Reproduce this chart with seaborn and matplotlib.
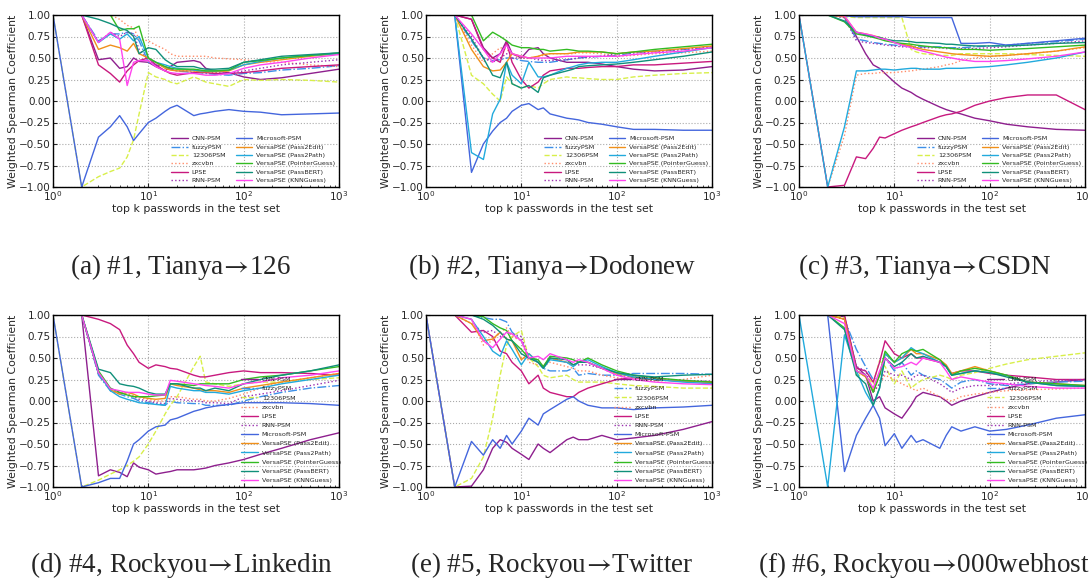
import matplotlib
matplotlib.use("Agg")
import matplotlib.pyplot as plt
import seaborn as sns
import numpy as np

# ============================================================================
# DATA (x = top k passwords)
# ============================================================================
K = [1, 2, 3, 4, 5, 6, 7, 8, 10, 12, 15, 17, 20, 30, 35, 40, 50, 70, 100, 150, 250, 500, 1000]

METHODS = ['CNN-PSM', 'fuzzyPSM', '12306PSM', 'zxcvbn', 'LPSE', 'RNN-PSM', 'Microsoft-PSM',
           'VersaPSE (Pass2Edit)', 'VersaPSE (Pass2Path)', 'VersaPSE (PointerGuess)',
           'VersaPSE (PassBERT)', 'VersaPSE (KNNGuess)']

ARROW = r'$\!{\rightarrow}\!$'
CAPTIONS = ['(a) #1, Tianya' + ARROW + '126', '(b) #2, Tianya' + ARROW + 'Dodonew',
            '(c) #3, Tianya' + ARROW + 'CSDN', '(d) #4, Rockyou' + ARROW + 'Linkedin',
            '(e) #5, Rockyou' + ARROW + 'Twitter', '(f) #6, Rockyou' + ARROW + '000webhost']

# (a) Tianya -> 126
A_CNN = [1, 1, .48, .5, .38, .4, .5, .46, .45, .4, .35, .4, .45, .47, .45, .38, .35, .33, .28, .25, .27, .32, .37]
A_FUZZY = [1, 1, .7, .78, .78, .8, .78, .7, .45, .42, .4, .37, .35, .33, .33, .32, .31, .3, .32, .33, .36, .38, .41]
A_12306 = [1, -1, -.88, -.82, -.78, -.65, -.45, -.15, .33, .28, .25, .22, .2, .28, .25, .22, .2, .17, .25, .24, .25, .24, .22]
A_ZXCVBN = [1, 1, 1, 1, .95, .88, .85, .72, .7, .65, .6, .55, .52, .52, .52, .52, .5, .49, .48, .46, .45, .42, .4]
A_LPSE = [1, 1, .42, .32, .22, .35, .42, .47, .5, .42, .35, .32, .3, .33, .33, .33, .32, .32, .33, .35, .38, .4, .42]
A_RNN = [1, 1, .68, .8, .75, .8, .78, .6, .47, .42, .4, .37, .35, .35, .34, .34, .33, .32, .35, .38, .42, .45, .48]
A_MS = [1, -1, -.42, -.3, -.17, -.3, -.46, -.38, -.25, -.2, -.12, -.08, -.05, -.17, -.15, -.14, -.12, -.1, -.12, -.13, -.16, -.15, -.14]
A_EDIT = [1, 1, .6, .65, .62, .58, .67, .55, .5, .45, .38, .36, .35, .35, .34, .34, .34, .35, .42, .45, .48, .52, .55]
A_PATH = [1, 1, .68, .78, .72, .78, .7, .75, .5, .45, .42, .4, .38, .36, .35, .35, .35, .36, .42, .46, .5, .53, .55]
A_POINTER = [1, 1, 1, 1, .82, .84, .84, .87, .5, .45, .4, .38, .37, .37, .36, .35, .35, .36, .45, .47, .5, .53, .56]
A_BERT = [1, 1, .95, .9, .85, .82, .75, .55, .62, .6, .48, .44, .4, .4, .38, .37, .37, .38, .45, .48, .52, .54, .56]
A_KNN = [1, 1, .68, .8, .72, .18, .45, .47, .47, .4, .35, .33, .32, .32, .31, .3, .3, .32, .38, .42, .45, .5, .54]

# (b) Tianya -> Dodonew
B_CNN = [1, 1, .95, .62, .5, .55, .7, .55, .5, .6, .62, .55, .5, .45, .45, .45, .45, .43, .4, .37, .35, .36, .4]
B_FUZZY = [1, 1, .7, .5, .47, .48, .5, .5, .47, .46, .45, .45, .45, .48, .49, .5, .51, .52, .53, .56, .58, .6, .62]
B_12306 = [1, 1, .3, .2, .08, 0, .28, .2, .15, .18, .15, .2, .25, .28, .27, .27, .26, .25, .25, .28, .3, .32, .33]
B_ZXCVBN = [1, 1, .65, .45, .55, .62, .6, .55, .5, .5, .52, .53, .55, .55, .55, .56, .56, .55, .52, .53, .55, .56, .58]
B_LPSE = [1, 1, .95, .6, .5, .45, .68, .45, .25, .15, .22, .3, .35, .38, .38, .38, .39, .4, .4, .42, .42, .44, .46]
B_RNN = [1, 1, .75, .5, .45, .5, .55, .5, .5, .5, .48, .47, .47, .48, .49, .5, .51, .52, .55, .56, .57, .6, .63]
B_MS = [1, 1, -.83, -.5, -.35, -.25, -.2, -.12, -.05, -.03, -.1, -.08, -.15, -.2, -.21, -.22, -.25, -.27, -.3, -.33, -.33, -.34, -.34]
B_EDIT = [1, 1, .6, .4, .35, .36, .45, .55, .52, .5, .52, .54, .55, .55, .56, .57, .57, .57, .55, .57, .58, .61, .64]
B_PATH = [1, 1, -.6, -.68, -.15, .02, .45, .3, .2, .45, .28, .28, .3, .38, .4, .42, .44, .45, .45, .48, .52, .57, .62]
B_POINTER = [1, 1, 1, .7, .8, .75, .7, .65, .62, .62, .6, .6, .58, .6, .59, .58, .58, .57, .55, .57, .6, .63, .66]
B_BERT = [1, 1, .72, .5, .3, .27, .45, .2, .15, .18, .1, .27, .3, .35, .37, .4, .41, .42, .43, .45, .48, .52, .57]
B_KNN = [1, 1, .78, .6, .45, .55, .65, .55, .52, .5, .5, .5, .5, .52, .52, .52, .52, .52, .52, .54, .56, .58, .62]

# (c) Tianya -> CSDN
C_CNN = [1, 1, .98, .75, .55, .42, .38, .32, .22, .15, .1, .06, .02, -.07, -.1, -.12, -.15, -.2, -.23, -.27, -.3, -.33, -.34]
C_FUZZY = [1, 1, .97, .72, .7, .68, .67, .66, .65, .64, .64, .63, .63, .63, .62, .62, .62, .63, .64, .65, .67, .69, .72]
C_12306 = [1, 1, .98, .97, .97, .97, .97, .97, .97, .97, .6, .57, .55, .53, .53, .53, .55, .55, .55, .55, .54, .53, .52]
C_ZXCVBN = [1, -1, -.4, .3, .32, .32, .33, .33, .33, .34, .35, .36, .37, .4, .42, .43, .47, .5, .52, .53, .55, .58, .62]
C_LPSE = [1, -1, -.98, -.65, -.67, -.55, -.42, -.43, -.38, -.34, -.3, -.28, -.25, -.18, -.16, -.15, -.12, -.05, 0, .04, .07, .07, -.1]
C_RNN = [1, 1, .97, .7, .68, .67, .66, .65, .64, .63, .63, .62, .62, .62, .61, .61, .61, .61, .62, .63, .65, .67, .7]
C_MS = [1, 1, .99, .98, .98, .98, .98, .98, .98, .98, .97, .97, .97, .97, .97, .97, .67, .67, .68, .65, .67, .7, .73]
C_EDIT = [1, 1, .98, .8, .78, .76, .74, .72, .68, .66, .64, .62, .6, .57, .56, .55, .54, .53, .52, .53, .55, .58, .63]
C_PATH = [1, -1, -.3, .35, .35, .36, .37, .37, .36, .37, .38, .38, .37, .37, .38, .38, .38, .39, .4, .42, .45, .5, .57]
C_POINTER = [1, 1, .92, .78, .76, .74, .72, .7, .68, .67, .66, .65, .64, .62, .62, .61, .6, .6, .59, .6, .61, .63, .65]
C_BERT = [1, 1, .93, .8, .77, .75, .74, .72, .7, .7, .69, .68, .68, .67, .66, .66, .65, .64, .64, .64, .65, .67, .68]
C_KNN = [1, 1, .99, .8, .78, .76, .73, .72, .68, .65, .62, .6, .58, .53, .51, .5, .48, .46, .46, .47, .49, .52, .57]

# (d) Rockyou -> Linkedin
D_CNN = [1, 1, -.87, -.8, -.83, -.88, -.72, -.77, -.8, -.85, -.83, -.82, -.8, -.8, -.79, -.78, -.75, -.72, -.68, -.62, -.55, -.45, -.37]
D_FUZZY = [1, 1, .3, .12, .08, .05, .03, 0, -.02, -.03, -.05, 0, -.02, -.03, -.03, -.05, -.05, -.05, 0, .05, .1, .15, .18]
D_12306 = [1, -1, -.92, -.85, -.8, -.75, -.7, -.65, -.5, -.35, -.15, -.05, .05, .4, .52, .22, .2, .17, .2, .22, .22, .25, .27]
D_ZXCVBN = [1, 1, .32, .13, .1, .08, .06, .04, .02, 0, 0, .05, .05, .02, .02, 0, 0, .03, .08, .15, .22, .27, .32]
D_LPSE = [1, 1, .95, .9, .83, .65, .55, .45, .38, .42, .4, .38, .37, .3, .28, .28, .3, .33, .35, .33, .33, .32, .3]
D_RNN = [1, 1, .32, .12, .1, .07, .05, .02, 0, -.02, -.03, .03, .02, 0, 0, -.02, -.02, -.03, .05, .08, .12, .18, .24]
D_MS = [1, -1, -.95, -.9, -.9, -.7, -.5, -.45, -.35, -.3, -.28, -.22, -.2, -.12, -.1, -.08, -.06, -.04, -.02, -.02, -.02, -.03, -.05]
D_EDIT = [1, 1, .33, .13, .08, .1, .08, .05, .03, .02, .03, .2, .18, .15, .13, .12, .12, .1, .15, .18, .22, .27, .32]
D_PATH = [1, 1, .32, .12, .05, .02, 0, -.02, -.03, -.04, -.05, .17, .15, .12, .12, .1, .1, .08, .12, .15, .2, .25, .3]
D_POINTER = [1, 1, .35, .15, .1, .07, .05, .05, .05, .06, .07, .2, .2, .18, .2, .2, .2, .2, .25, .28, .3, .35, .4]
D_BERT = [1, 1, .37, .33, .2, .18, .17, .15, .1, .08, .08, .2, .2, .15, .15, .12, .15, .12, .2, .25, .3, .35, .42]
D_KNN = [1, 1, .33, .14, .12, .1, .1, .1, .08, .07, .07, .24, .23, .2, .19, .18, .17, .15, .2, .22, .27, .3, .35]

# (e) Rockyou -> Twitter
E_CNN = [1, -1, -.99, -.8, -.55, -.45, -.48, -.55, -.62, -.68, -.5, -.55, -.6, -.45, -.42, -.45, -.45, -.4, -.45, -.43, -.4, -.33, -.24]
E_FUZZY = [1, 1, 1, .97, .95, .95, .92, .8, .7, .5, .45, .38, .35, .35, .38, .3, .32, .3, .3, .32, .32, .32, .31]
E_12306 = [1, -1, -.9, -.65, -.2, .3, .65, .75, .82, .5, .4, .3, .27, .3, .25, .22, .22, .22, .2, .18, .17, .15, .15]
E_ZXCVBN = [1, 1, .95, .65, .7, .8, .85, .75, .7, .45, .42, .4, .45, .4, .38, .35, .35, .3, .27, .25, .23, .25, .3]
E_LPSE = [1, 1, .8, .82, .75, .58, .55, .45, .35, .2, .3, .15, .1, .05, .05, .1, .15, .2, .25, .27, .25, .23, .22]
E_RNN = [1, 1, .9, .8, .82, .75, .8, .78, .75, .5, .45, .4, .5, .45, .42, .42, .42, .38, .3, .28, .26, .24, .23]
E_MS = [1, -1, -.47, -.63, -.45, -.55, -.4, -.5, -.35, -.2, -.28, -.15, -.1, .02, .05, 0, -.05, -.08, -.08, -.1, -.08, -.07, -.05]
E_EDIT = [1, 1, .9, .7, .72, .8, .72, .7, .48, .55, .45, .4, .5, .45, .42, .45, .45, .38, .32, .28, .25, .23, .22]
E_PATH = [1, 1, .95, .75, .58, .52, .7, .6, .42, .55, .45, .38, .48, .45, .4, .45, .48, .4, .33, .28, .25, .22, .2]
E_POINTER = [1, 1, 1, .98, .9, .85, .82, .7, .6, .5, .48, .4, .52, .5, .48, .45, .5, .42, .35, .3, .27, .24, .22]
E_BERT = [1, 1, 1, .95, .88, .8, .72, .7, .55, .5, .45, .38, .5, .48, .42, .45, .45, .38, .33, .3, .28, .3, .31]
E_KNN = [1, 1, .95, .7, .62, .72, .8, .78, .7, .5, .52, .48, .55, .48, .45, .48, .45, .38, .3, .25, .22, .2, .19]

# (f) Rockyou -> 000webhost
F_CNN = [1, 1, .98, .4, .3, 0, .05, -.08, -.15, -.2, -.05, .05, .1, .05, 0, -.05, 0, .05, .1, .15, .2, .22, .25]
F_FUZZY = [1, 1, .95, .6, .4, .25, .3, .5, .35, .45, .3, .35, .3, .25, .2, .15, .22, .25, .2, .18, .2, .22, .23]
F_12306 = [1, 1, .97, .3, .3, .2, .47, .4, .2, .35, .15, .2, .25, .3, .28, .25, .3, .33, .38, .43, .48, .52, .56]
F_ZXCVBN = [1, 1, .95, .35, .3, .1, .2, .3, .25, .2, .15, .12, .15, .05, .02, 0, .05, .08, .1, .12, .13, .14, .15]
F_LPSE = [1, 1, 1, .38, .35, .22, .45, .7, .55, .5, .55, .5, .5, .45, .4, .32, .35, .35, .32, .3, .28, .25, .25]
F_RNN = [1, 1, .95, .4, .35, .1, .2, .35, .3, .3, .25, .3, .3, .2, .15, .1, .15, .18, .18, .2, .22, .24, .25]
F_MS = [1, 1, -.82, -.4, -.2, -.05, -.2, -.52, -.38, -.55, -.4, -.48, -.45, -.55, -.4, -.3, -.35, -.3, -.35, -.33, -.28, -.2, -.16]
F_EDIT = [1, 1, .95, .35, .28, .12, .3, .55, .45, .5, .6, .55, .55, .48, .42, .32, .35, .4, .35, .3, .22, .2, .18]
F_PATH = [1, -1, .77, .35, .1, -.05, .15, .55, .45, .5, .62, .58, .55, .45, .4, .3, .32, .35, .33, .3, .22, .18, .17]
F_POINTER = [1, 1, .85, .35, .3, .1, .3, .58, .45, .55, .6, .58, .6, .48, .4, .3, .35, .38, .35, .3, .22, .2, .18]
F_BERT = [1, 1, .83, .3, .2, -.05, .15, .5, .4, .45, .55, .5, .52, .45, .4, .3, .32, .35, .33, .28, .22, .18, .17]
F_KNN = [1, 1, .9, .35, .3, .15, .35, .5, .38, .4, .45, .42, .5, .45, .35, .25, .28, .25, .22, .2, .17, .15, .15]

PANELS = [
    [A_CNN, A_FUZZY, A_12306, A_ZXCVBN, A_LPSE, A_RNN, A_MS, A_EDIT, A_PATH, A_POINTER, A_BERT, A_KNN],
    [B_CNN, B_FUZZY, B_12306, B_ZXCVBN, B_LPSE, B_RNN, B_MS, B_EDIT, B_PATH, B_POINTER, B_BERT, B_KNN],
    [C_CNN, C_FUZZY, C_12306, C_ZXCVBN, C_LPSE, C_RNN, C_MS, C_EDIT, C_PATH, C_POINTER, C_BERT, C_KNN],
    [D_CNN, D_FUZZY, D_12306, D_ZXCVBN, D_LPSE, D_RNN, D_MS, D_EDIT, D_PATH, D_POINTER, D_BERT, D_KNN],
    [E_CNN, E_FUZZY, E_12306, E_ZXCVBN, E_LPSE, E_RNN, E_MS, E_EDIT, E_PATH, E_POINTER, E_BERT, E_KNN],
    [F_CNN, F_FUZZY, F_12306, F_ZXCVBN, F_LPSE, F_RNN, F_MS, F_EDIT, F_PATH, F_POINTER, F_BERT, F_KNN],
]

COLORS = ['#8e1f8e', '#3d8fe8', '#d8ef4a', '#ff8c69', '#c8197e', '#9b30b0', '#4466dd',
          '#f0901a', '#22aadd', '#33bb22', '#10907a', '#ff44ee']
LINESTYLES = ['-', '-.', '--', ':', '-', ':', '-', '-', '-', '-', '-', '-']

YTICKS = [-1.0, -0.75, -0.5, -0.25, 0.0, 0.25, 0.5, 0.75, 1.0]

# ============================================================================
# LAYOUT
# ============================================================================
sns.set_style("ticks")
plt.rcParams['mathtext.fontset'] = 'stix'

LEFTS = [53 / 1089, 426 / 1089, 799 / 1089]
BOTTOMS = [1 - 187 / 578, 1 - 487 / 578]
W, H = 286 / 1089, 172 / 578
CAP_X = [181 / 1089, 552 / 1089, 924 / 1089]
CAP_Y = [1 - 267 / 578, 1 - 565 / 578]

fig = plt.figure(figsize=(10.89, 5.78), dpi=100)

for i, series in enumerate(PANELS):
    r, c = divmod(i, 3)
    ax = fig.add_axes([LEFTS[c], BOTTOMS[r], W, H])
    ax.grid(True, which='major', color='#aaaaaa', linestyle=':', linewidth=0.8)
    for name, vals, col, ls in zip(METHODS, series, COLORS, LINESTYLES):
        sns.lineplot(x=K, y=vals, ax=ax, color=col, linestyle=ls, linewidth=1.0,
                     label=name, estimator=None, sort=False)
    ax.set_xscale('log')
    ax.set_xlim(1, 1000)
    ax.set_ylim(-1, 1)
    ax.set_yticks(YTICKS)
    ax.set_yticklabels([f'{t:.2f}'.replace('-', '\u2212') for t in YTICKS])
    ax.tick_params(axis='both', which='major', direction='in', labelsize=7.5,
                   length=3, width=0.8, pad=1.5)
    ax.tick_params(which='minor', direction='in', length=1.8, width=0.6)
    for sp in ax.spines.values():
        sp.set_color('black')
        sp.set_linewidth(1.0)
    ax.set_xlabel('top k passwords in the test set', fontsize=7.8, labelpad=1)
    ax.set_ylabel('Weighted Spearman Coefficient', fontsize=7.8, labelpad=0.5)
    if r == 0:
        ax.legend(loc='lower right', ncol=2, fontsize=4.6, frameon=False,
                  borderaxespad=0.2, columnspacing=1.6, handlelength=2.6,
                  labelspacing=0.45, handletextpad=0.6)
    else:
        ax.legend(loc='lower right', ncol=1, fontsize=4.6, frameon=False,
                  bbox_to_anchor=(1.02, 0.0), borderaxespad=0.2, handlelength=2.6,
                  labelspacing=0.58, handletextpad=0.6)
    fig.text(CAP_X[c], CAP_Y[r], CAPTIONS[i], ha='center', va='center', fontsize=19.5,
             family=['Liberation Serif', 'DejaVu Serif'])

fig.savefig('out.png', dpi=100)
